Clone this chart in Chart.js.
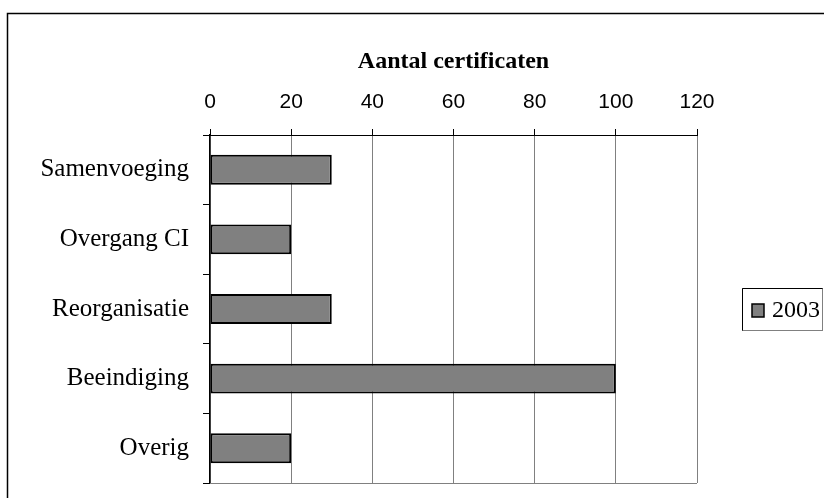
<!DOCTYPE html>
<html lang="nl">
<head>
  <meta charset="UTF-8" />
  <title>Aantal certificaten</title>
  <script src="https://cdn.jsdelivr.net/npm/chart.js"></script>
  <style>
    body { margin: 0; background: #fff; }
    #wrap { width: 824px; height: 498px; position: relative; }
  </style>
</head>
<body>
  <div id="wrap"><canvas id="chart"></canvas></div>

  <script>
    const categories = ['Samenvoeging', 'Overgang CI', 'Reorganisatie', 'Beeindiging', 'Overig'];
    const values2003 = [30, 20, 30, 100, 20];
    const seriesLabel = '2003';
    const axisTitle = 'Aantal certificaten';
    const xMin = 0, xMax = 120, xStep = 20;

    // frame, bottom edge of the plot and the legend box
    const decorations = {
      id: 'decorations',
      beforeDatasetsDraw(chart) {
        const { ctx, chartArea } = chart;
        ctx.save();
        ctx.strokeStyle = '#808080';
        ctx.lineWidth = 1;
        ctx.beginPath();
        ctx.moveTo(chartArea.left, chartArea.bottom + 0.5);
        ctx.lineTo(chartArea.right, chartArea.bottom + 0.5);
        ctx.stroke();
        ctx.restore();
      },
      afterDraw(chart) {
        const { ctx } = chart;
        ctx.save();
        // outer frame
        ctx.strokeStyle = '#000';
        ctx.lineWidth = 1.5;
        ctx.beginPath();
        ctx.moveTo(7.5, 498);
        ctx.lineTo(7.5, 13.5);
        ctx.lineTo(824, 13.5);
        ctx.stroke();

        // legend
        const ds = chart.data.datasets[0];
        ctx.lineWidth = 1;
        ctx.strokeStyle = '#808080';
        ctx.strokeRect(742.5, 288.5, 80, 42);
        ctx.strokeStyle = '#000';
        ctx.beginPath();
        ctx.moveTo(742.5, 330.5);
        ctx.lineTo(742.5, 288.5);
        ctx.lineTo(822.5, 288.5);
        ctx.stroke();
        ctx.fillStyle = ds.backgroundColor;
        ctx.fillRect(752, 304, 12, 13);
        ctx.lineWidth = 1.5;
        ctx.strokeRect(752, 304, 12, 13);
        ctx.fillStyle = '#000';
        ctx.font = '24px "Liberation Serif", "Times New Roman", serif';
        ctx.textBaseline = 'middle';
        ctx.fillText(ds.label, 772, 311);
        ctx.restore();
      }
    };

    const ctx = document.getElementById('chart').getContext('2d');
    new Chart(ctx, {
      type: 'bar',
      data: {
        labels: categories,
        datasets: [{
          label: seriesLabel,
          data: values2003,
          backgroundColor: '#808080',
          borderColor: '#000',
          borderWidth: 2,
          borderSkipped: false,
          barPercentage: 0.43,
          categoryPercentage: 1
        }]
      },
      options: {
        indexAxis: 'y',
        responsive: true,
        maintainAspectRatio: false,
        animation: false,
        layout: { padding: { left: 0, right: 127, top: 0, bottom: 15 } },
        plugins: {
          legend: { display: false },
          tooltip: { enabled: false }
        },
        scales: {
          x: {
            position: 'top',
            min: xMin,
            max: xMax,
            afterFit(scale) {
              scale.height = 135;
              scale.paddingLeft = 0;
              scale.paddingRight = 0;
            },
            ticks: {
              stepSize: xStep,
              color: '#000',
              padding: 14,
              font: { family: '"Liberation Sans", Arial, sans-serif', size: 21 }
            },
            grid: {
              color: '#808080',
              tickColor: '#000',
              tickLength: 6
            },
            border: { color: '#000' },
            title: {
              display: true,
              text: axisTitle,
              color: '#000',
              padding: { top: 47, bottom: 0 },
              font: { family: '"Liberation Serif", "Times New Roman", serif', size: 24, weight: 'bold' }
            }
          },
          y: {
            afterFit(scale) {
              scale.width = 210;
              scale.paddingTop = 0;
              scale.paddingBottom = 0;
            },
            ticks: {
              color: '#000',
              padding: 14,
              font: { family: '"Liberation Serif", "Times New Roman", serif', size: 25 }
            },
            grid: {
              drawOnChartArea: false,
              color: '#000',
              tickLength: 7
            },
            border: { color: '#000', width: 1.5 }
          }
        }
      },
      plugins: [decorations]
    });
  </script>
</body>
</html>
